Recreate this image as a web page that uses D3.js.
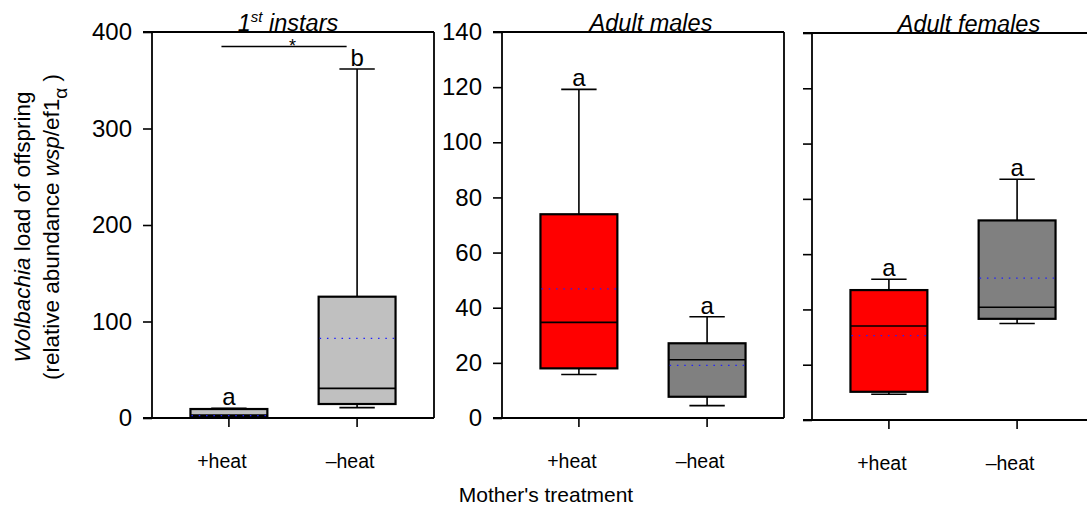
<!DOCTYPE html>
<html>
<head>
<meta charset="utf-8">
<script src="https://cdn.jsdelivr.net/npm/d3@7"></script>
<style>
  body { margin: 0; background: #fff; }
  text { font-family: "Liberation Sans", Arial, sans-serif; fill: #000; }
</style>
</head>
<body>
<svg id="chart" width="1087" height="518"></svg>
<script>
// ---------------- data ----------------
const panelTitles = ["1st instars", "Adult males", "Adult females"];
const groups = ["+heat", "\u2013heat"];
const yMaxes = [400, 140, 140];
const yTicksPanel1 = [0, 100, 200, 300, 400];
const yTicksAdult = [0, 20, 40, 60, 80, 100, 120, 140];
// per panel: [+heat, -heat]
const whiskerLow  = [[0.8, 10.7], [15.8, 4.5], [9.3, 34.9]];
const quart1      = [[1.3, 14.5], [18.0, 7.7], [10.2, 36.6]];
const medians     = [[3.0, 30.7], [34.7, 21.1], [34.0, 40.8]];
const quart3      = [[9.3, 125.7], [73.9, 27.1], [47.0, 72.2]];
const whiskerHigh = [[10.0, 361.7], [119.2, 36.7], [50.9, 87.1]];
const means       = [[2.5, 82.6], [46.8, 19.1], [30.5, 51.3]];
const letters     = [["a", "b"], ["a", "a"], ["a", "a"]];
const boxFills    = [["#c0c0c0", "#c0c0c0"], ["#ff0000", "#808080"], ["#ff0000", "#808080"]];

// ---------------- layout ----------------
const panels = [
  { left: 152, right: 434, top: 32, bottom: 418, labels: true, titleDx: -5 },
  { left: 502, right: 784, top: 32, bottom: 418, labels: true, titleDx: 8 },
  { left: 812, right: 1094, top: 33, bottom: 420, labels: false, titleDx: 16 }
];
const tickLen = 9;
const svg = d3.select("#chart");

panels.forEach((p, i) => {
  const g = svg.append("g");
  const x = d3.scaleBand().domain(groups).range([p.left, p.right])
    .paddingInner(0.4).paddingOuter(0.3);
  const y = d3.scaleLinear().domain([0, yMaxes[i]]).range([p.bottom, p.top]);
  const ticks = i === 0 ? yTicksPanel1 : yTicksAdult;

  // y axis
  const yAxis = d3.axisLeft(y).tickValues(ticks).tickSize(tickLen).tickPadding(11)
    .tickFormat(p.labels ? d3.format("d") : "");
  const ya = g.append("g").attr("transform", `translate(${p.left},0)`).call(yAxis);
  ya.select(".domain").remove();
  ya.selectAll(".tick line").attr("stroke", "#000").attr("stroke-width", 1.6);
  ya.selectAll(".tick text").style("font-size", "24px").attr("fill", "#000")
    .style("font-family", '"Liberation Sans", Arial, sans-serif');

  // x axis ticks
  const xAxis = d3.axisBottom(x).tickSize(tickLen).tickPadding(0).tickFormat("");
  const xa = g.append("g").attr("transform", `translate(0,${p.bottom})`).call(xAxis);
  xa.select(".domain").remove();
  xa.selectAll(".tick line").attr("stroke", "#000").attr("stroke-width", 1.6);

  // category labels
  g.selectAll(".cat").data(groups).enter().append("text")
    .attr("x", d => x(d) + x.bandwidth() / 2 - 7)
    .attr("y", p.bottom + 50)
    .attr("text-anchor", "middle")
    .style("font-size", "19.5px")
    .text(d => d);

  // frame
  const fr = g.append("g").attr("stroke", "#000").attr("stroke-width", 1.8).attr("fill", "none");
  fr.append("line").attr("x1", p.left - tickLen).attr("x2", p.right).attr("y1", p.top).attr("y2", p.top);
  fr.append("line").attr("x1", p.left - tickLen).attr("x2", p.right).attr("y1", p.bottom).attr("y2", p.bottom);
  fr.append("line").attr("x1", p.left).attr("x2", p.left).attr("y1", p.top).attr("y2", p.bottom);
  fr.append("line").attr("x1", p.right).attr("x2", p.right).attr("y1", p.top).attr("y2", p.bottom);

  // boxes
  groups.forEach((grp, j) => {
    const bx = x(grp), bw = x.bandwidth(), cx = bx + bw / 2;
    const capW = bw * 0.46;
    const bg = g.append("g");
    // whiskers
    bg.append("line").attr("x1", cx).attr("x2", cx)
      .attr("y1", y(quart3[i][j])).attr("y2", y(whiskerHigh[i][j]))
      .attr("stroke", "#000").attr("stroke-width", 1.6);
    bg.append("line").attr("x1", cx).attr("x2", cx)
      .attr("y1", y(quart1[i][j])).attr("y2", y(whiskerLow[i][j]))
      .attr("stroke", "#000").attr("stroke-width", 1.6);
    bg.append("line").attr("x1", cx - capW / 2).attr("x2", cx + capW / 2)
      .attr("y1", y(whiskerHigh[i][j])).attr("y2", y(whiskerHigh[i][j]))
      .attr("stroke", "#000").attr("stroke-width", 1.6);
    bg.append("line").attr("x1", cx - capW / 2).attr("x2", cx + capW / 2)
      .attr("y1", y(whiskerLow[i][j])).attr("y2", y(whiskerLow[i][j]))
      .attr("stroke", "#000").attr("stroke-width", 1.6);
    // box
    bg.append("rect").attr("x", bx).attr("width", bw)
      .attr("y", y(quart3[i][j])).attr("height", y(quart1[i][j]) - y(quart3[i][j]))
      .attr("fill", boxFills[i][j]).attr("stroke", "#000").attr("stroke-width", 2.2);
    // median
    bg.append("line").attr("x1", bx).attr("x2", bx + bw)
      .attr("y1", y(medians[i][j])).attr("y2", y(medians[i][j]))
      .attr("stroke", "#000").attr("stroke-width", 1.6);
    // mean (dotted)
    bg.append("line").attr("x1", bx + 1).attr("x2", bx + bw - 1)
      .attr("y1", y(means[i][j])).attr("y2", y(means[i][j]))
      .attr("stroke", "#2020ff").attr("stroke-width", 1.3).attr("stroke-dasharray", "1.5 5.8");
    // letter
    bg.append("text").attr("x", cx).attr("y", y(whiskerHigh[i][j]) - 3)
      .attr("text-anchor", "middle").style("font-size", "24px").text(letters[i][j]);
  });

  // title
  const t = g.append("text").attr("x", (p.left + p.right) / 2 + p.titleDx).attr("y", p.top - 1)
    .attr("text-anchor", "middle").style("font-size", "23.5px").style("font-style", "italic");
  if (i === 0) {
    t.append("tspan").text("1");
    t.append("tspan").attr("dy", -9).style("font-size", "15px").text("st");
    t.append("tspan").attr("dy", 9).text(" instars");
  } else {
    t.text(panelTitles[i]);
  }

  // significance bar in first panel
  if (i === 0) {
    const yb = y(385);
    g.append("line").attr("x1", x(groups[0]) + 31).attr("x2", x(groups[1]) + 28)
      .attr("y1", yb).attr("y2", yb).attr("stroke", "#000").attr("stroke-width", 1.6);
    g.append("text").attr("x", (x(groups[0]) + x(groups[1])) / 2 + 38).attr("y", yb + 6)
      .attr("text-anchor", "middle").style("font-size", "18px").text("*");
  }
});

// y axis title
const yt = svg.append("g").attr("transform", "translate(0,227) rotate(-90)");
const l1 = yt.append("text").attr("x", 0).attr("y", 30).attr("text-anchor", "middle").style("font-size", "22.5px");
l1.append("tspan").style("font-style", "italic").text("Wolbachia");
l1.append("tspan").text(" load of offspring");
const l2 = yt.append("text").attr("x", 0).attr("y", 59).attr("text-anchor", "middle").style("font-size", "22.5px");
l2.append("tspan").text("(relative abundance ");
l2.append("tspan").style("font-style", "italic").text("wsp");
l2.append("tspan").text("/ef1");
l2.append("tspan").attr("dy", 8).style("font-size", "19px").text("\u03b1");
l2.append("tspan").attr("dy", -8).text("  )");

// x axis title
svg.append("text").attr("x", 546).attr("y", 502).attr("text-anchor", "middle")
  .style("font-size", "21px").text("Mother's treatment");
</script>
</body>
</html>
